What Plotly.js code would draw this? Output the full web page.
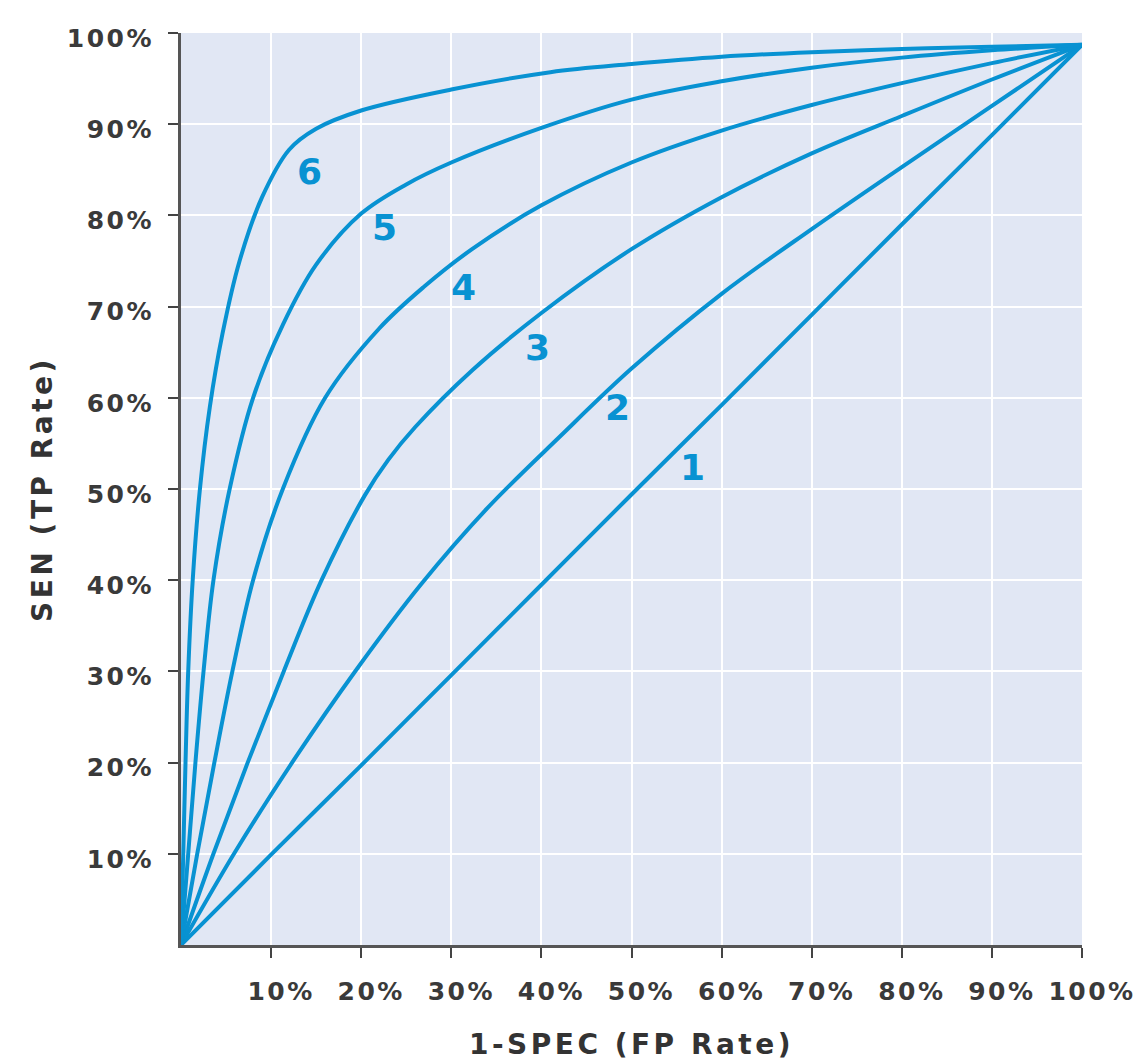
<!DOCTYPE html>
<html>
<head>
<meta charset="utf-8">
<script src="https://cdn.plot.ly/plotly-3.0.1.min.js"></script>
<style>
  html, body { margin: 0; padding: 0; background: #ffffff; }
  #chart { width: 1143px; height: 1062px; }
  .xtick text, .ytick text { letter-spacing: 2.5px; }
  .g-xtitle text, .g-ytitle text { letter-spacing: 3.5px; }
</style>
</head>
<body>
<div id="chart"></div>
<script>
// ROC curves: x = 1-SPEC (FP rate, %), y = SEN (TP rate, %)
const curve1X = [0, 10, 20, 30, 40, 50, 60, 70, 80, 90, 100];
const curve1Y = [0, 9.9, 19.7, 29.6, 39.5, 49.4, 59.2, 69.1, 79, 88.8, 98.7];

const curve2X = [0, 6, 12.6, 19.4, 26.6, 34, 42, 50, 60, 70, 80, 90, 100];
const curve2Y = [0, 10.2, 20.4, 30.1, 39.5, 47.9, 55.7, 63.2, 71.4, 78.5, 85.3, 92, 98.7];

const curve3X = [0, 3.6, 7.4, 11.4, 15.6, 20.4, 23, 26, 32.3, 40, 50, 60, 70, 80, 90, 100];
const curve3Y = [0, 10, 20, 30, 40, 49.3, 53.2, 56.8, 63, 69.3, 76.3, 82, 86.8, 90.9, 94.9, 98.7];

const curve4X = [0, 1.8, 3.7, 5.7, 8, 11.3, 16, 22, 27, 32.3, 40, 50, 60, 70, 80, 90, 100];
const curve4Y = [0, 10, 20, 30, 40, 50, 60, 67.6, 72.2, 76.3, 81.1, 85.8, 89.3, 92.1, 94.5, 96.7, 98.7];

const curve5X = [0, 0.8, 1.6, 2.5, 3.6, 5.4, 8, 11.3, 15, 20, 25, 30, 40, 50, 60, 70, 80, 90, 100];
const curve5Y = [0, 10, 20, 30, 40, 50, 60, 68, 74.6, 80.2, 83.4, 85.8, 89.6, 92.7, 94.7, 96.2, 97.3, 98.1, 98.7];

const curve6X = [0, 0.25, 0.5, 0.8, 1.3, 2.1, 3.2, 4.6, 6.5, 9, 12, 15, 20, 30, 41, 50, 60, 70, 80, 90, 100];
const curve6Y = [0, 10, 20, 30, 40, 50, 59, 67, 75, 82, 87.2, 89.5, 91.5, 93.8, 95.7, 96.6, 97.4, 97.9, 98.25, 98.5, 98.7];

const curveNames = ["1", "2", "3", "4", "5", "6"];
const labelX = [56.8, 48.5, 39.6, 31.3, 22.6, 14.3];
const labelY = [52.4, 58.9, 65.5, 72.1, 78.7, 84.8];

const tickVals = [10, 20, 30, 40, 50, 60, 70, 80, 90, 100];
const tickText = ["10%", "20%", "30%", "40%", "50%", "60%", "70%", "80%", "90%", "100%"];

const xTitle = "1-SPEC (FP Rate)";
const yTitle = "SEN (TP Rate)";

const blue = "rgb(8,146,210)";
const xs = [curve1X, curve2X, curve3X, curve4X, curve5X, curve6X];
const ys = [curve1Y, curve2Y, curve3Y, curve4Y, curve5Y, curve6Y];

const traces = xs.map((x, i) => ({
  x: x, y: ys[i], type: "scatter", mode: "lines", name: curveNames[i],
  line: { color: blue, width: 4, shape: "spline", smoothing: 1 },
  hoverinfo: "skip"
}));

const annotations = curveNames.map((t, i) => ({
  x: labelX[i], y: labelY[i], xref: "x", yref: "y", text: t, showarrow: false,
  font: { family: "DejaVu Sans", size: 36, color: blue, weight: "bold" },
  xanchor: "center", yanchor: "middle"
}));

const tickFont = { family: "DejaVu Sans", size: 25, color: "#3a3a3a", weight: "bold" };
const titleFont = { family: "DejaVu Sans", size: 28, color: "#333333", weight: "bold" };

const layout = {
  width: 1143, height: 1062,
  margin: { l: 181, r: 61, t: 33, b: 117 },
  paper_bgcolor: "#ffffff",
  plot_bgcolor: "#e1e7f4",
  showlegend: false,
  xaxis: {
    range: [0, 100], tickvals: tickVals, ticktext: tickText,
    ticks: "outside", ticklen: 10, tickwidth: 2, tickcolor: "#444",
    showline: true, linecolor: "#555", linewidth: 3,
    showgrid: true, gridcolor: "#ffffff", gridwidth: 2, zeroline: false,
    tickfont: tickFont, ticklabelshift: 10, ticklabelstandoff: 12,
    title: { text: xTitle, font: titleFont, standoff: 30 }
  },
  yaxis: {
    range: [0, 100], tickvals: tickVals, ticktext: tickText,
    ticks: "outside", ticklen: 10, tickwidth: 2, tickcolor: "#444",
    showline: true, linecolor: "#555", linewidth: 3,
    showgrid: true, gridcolor: "#ffffff", gridwidth: 2, zeroline: false,
    tickfont: tickFont, ticklabelshift: 5, ticklabelstandoff: 9,
    title: { text: yTitle, font: titleFont, standoff: 6 }
  },
  annotations: annotations
};

Plotly.newPlot("chart", traces, layout, { staticPlot: true, displayModeBar: false });
</script>
</body>
</html>
